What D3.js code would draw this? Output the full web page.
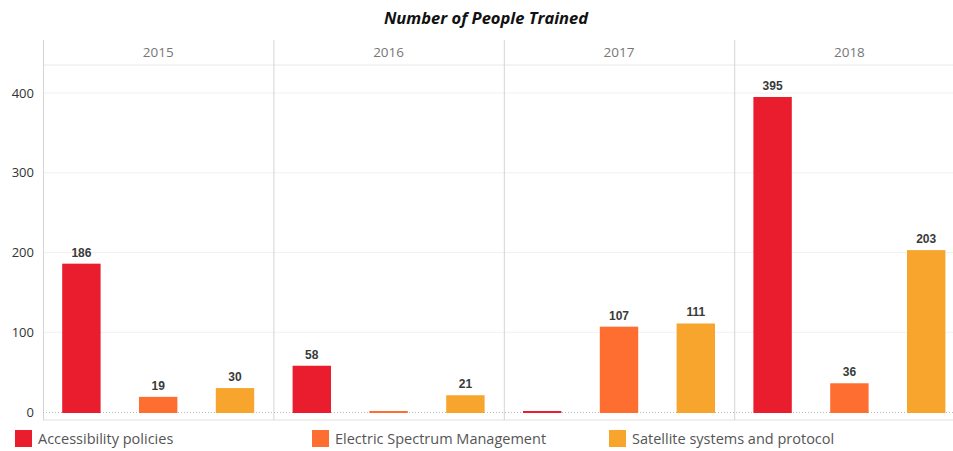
<!DOCTYPE html>
<html><head><meta charset="utf-8">
<script src="https://cdn.jsdelivr.net/npm/d3@7"></script>
<style>body{margin:0;background:#fff}svg{display:block}</style>
</head><body>
<svg id="c" width="953" height="451"></svg>
<script>
const years = ["2015","2016","2017","2018"];
const series = ["Accessibility policies","Electric Spectrum Management","Satellite systems and protocol"];
const accessibility = [186, 58, 0, 395];
const electric = [19, 0, 107, 36];
const satellite = [30, 21, 111, 203];
const yTicks = [0, 100, 200, 300, 400];
const colors = ["#e91d2d", "#fd6e30", "#f7a52c"];
const title = "Number of People Trained";

const values = [accessibility, electric, satellite];
const svg = d3.select("#c");
const W = 953, plotLeft = 43, panelW = 230.4, plotTop = 40, headerB = 65, bottomLine = 420;

const x0 = d3.scaleBand().domain(years).range([plotLeft, plotLeft + panelW * years.length]);
const x1 = d3.scaleBand().domain(series).range([0, x0.bandwidth()]).paddingInner(0.5).paddingOuter(0.25);
const y = d3.scaleLinear().domain([0, 400]).range([412, 93]);
const color = d3.scaleOrdinal().domain(series).range(colors);

// title
svg.append("text").attr("x", 486).attr("y", 24).attr("text-anchor", "middle")
  .style("font-family", "'Open Sans', sans-serif").style("font-weight", "bold").style("font-style", "italic")
  .style("font-size", "16.5px").attr("fill", "#111").text(title);

// gridlines
svg.append("g").selectAll("line").data(yTicks.filter(d => d > 0)).join("line")
  .attr("x1", plotLeft).attr("x2", W).attr("y1", d => y(d)).attr("y2", d => y(d))
  .attr("stroke", "#f0f0f0").attr("stroke-width", 1);

// header line
svg.append("line").attr("x1", plotLeft).attr("x2", W).attr("y1", headerB).attr("y2", headerB)
  .attr("stroke", "#e8e8e8");
// bottom line
svg.append("line").attr("x1", plotLeft).attr("x2", W).attr("y1", bottomLine).attr("y2", bottomLine)
  .attr("stroke", "#e0e0e0");

// panel dividers
svg.append("g").selectAll("line").data(years).join("line")
  .attr("x1", d => x0(d) + 0.5).attr("x2", d => x0(d) + 0.5).attr("y1", plotTop).attr("y2", bottomLine)
  .attr("stroke", "#d4d4d4");

// year headers
svg.append("g").selectAll("text").data(years).join("text")
  .attr("x", d => x0(d) + x0.bandwidth() / 2).attr("y", 57).attr("text-anchor", "middle")
  .style("font-family", "'Open Sans', sans-serif").style("font-size", "13.5px").attr("fill", "#777")
  .text(d => d);

// y axis labels
const yAxis = d3.axisLeft(y).tickValues(yTicks).tickSize(0).tickPadding(9);
const ga = svg.append("g").attr("transform", `translate(${plotLeft},0)`).call(yAxis);
ga.select(".domain").remove();
ga.selectAll("text").style("font-family", "'Open Sans', sans-serif").style("font-size", "13px").attr("fill", "#333");

// zero line dotted
svg.append("line").attr("x1", plotLeft).attr("x2", W).attr("y1", y(0) + 0.5).attr("y2", y(0) + 0.5)
  .attr("stroke", "#bbb").attr("stroke-dasharray", "1,2");

// bars
const data = [];
years.forEach((yr, i) => series.forEach((s, j) => data.push({yr, s, v: values[j][i]})));
const g = svg.append("g");
g.selectAll("rect").data(data).join("rect")
  .attr("x", d => x0(d.yr) + x1(d.s))
  .attr("width", x1.bandwidth())
  .attr("y", d => Math.min(y(d.v), y(0) - 1))
  .attr("height", d => Math.max(y(0) - y(d.v), 1) + 1)
  .attr("fill", d => color(d.s));

g.selectAll("text").data(data.filter(d => d.v > 0)).join("text")
  .attr("x", d => x0(d.yr) + x1(d.s) + x1.bandwidth() / 2)
  .attr("y", d => y(d.v) - 7).attr("text-anchor", "middle")
  .style("font-family", "'Liberation Sans', Arial, sans-serif").style("font-weight", "bold").style("font-size", "12px")
  .attr("fill", "#3a3a3a").text(d => d.v);

// legend
const lg = svg.append("g").selectAll("g").data(series).join("g")
  .attr("transform", (d, i) => `translate(${15 + i * 297},430)`);
lg.append("rect").attr("width", 17).attr("height", 17).attr("fill", d => color(d));
lg.append("text").attr("x", 23).attr("y", 14)
  .style("font-family", "'Open Sans', sans-serif").style("font-size", "14.5px").attr("fill", "#555")
  .text(d => d);
</script>
</body></html>
